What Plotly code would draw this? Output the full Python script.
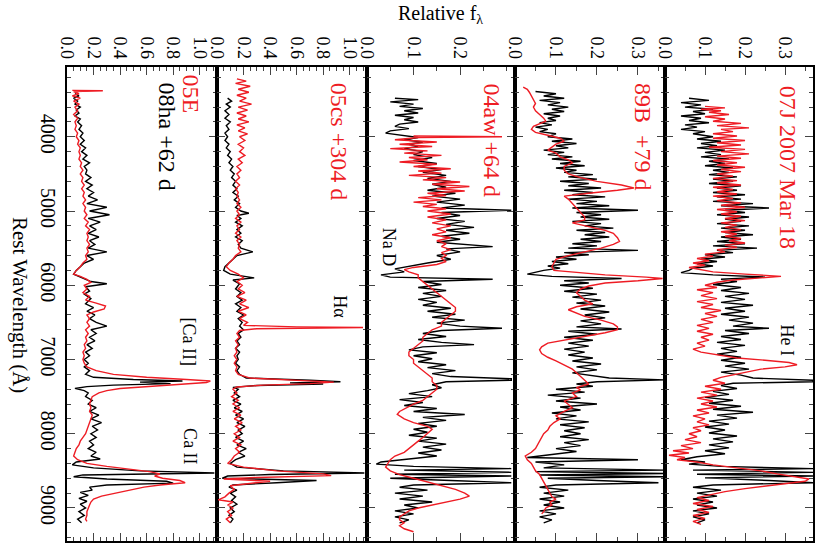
import plotly.graph_objects as go
from plotly.subplots import make_subplots

# ---- data ----
# panel 1: SN 2008ha (black) vs 05E (red)
wl_08ha = [3420, 3450, 3480, 3520, 3560, 3600, 3640, 3680, 3720, 3760, 3800, 3850, 3900, 3950,
           4000, 4050, 4100, 4150, 4200, 4250, 4300, 4350, 4400, 4450, 4500, 4550, 4600, 4650,
           4700, 4750, 4800, 4850, 4900, 4950, 5000, 5050, 5100, 5150, 5200, 5250, 5300, 5350,
           5400, 5450, 5500, 5550, 5600, 5650, 5700, 5750, 5800, 5850, 5900, 5950, 5980, 6020,
           6080, 6120, 6180, 6250, 6300, 6350, 6400, 6450, 6500, 6550, 6600, 6650, 6700, 6750,
           6800, 6850, 6900, 6950, 7000, 7050, 7100, 7150, 7200, 7240, 7270, 7290, 7305, 7325,
           7345, 7365, 7390, 7420, 7450, 7500, 7550, 7600, 7650, 7700, 7750, 7800, 7850, 7900,
           7950, 8000, 8050, 8100, 8150, 8200, 8250, 8300, 8340, 8380, 8420, 8460, 8500, 8530,
           8555, 8580, 8610, 8640, 8665, 8690, 8720, 8760, 8790, 8830, 8870, 8910, 8950, 9000,
           9050, 9100, 9150, 9200]
fl_08ha = [0.06, 0.09, 0.05, 0.08, 0.06, 0.10, 0.07, 0.09, 0.06, 0.10, 0.08, 0.11, 0.09, 0.12,
           0.10, 0.13, 0.10, 0.14, 0.11, 0.15, 0.12, 0.17, 0.13, 0.15, 0.14, 0.18, 0.14, 0.19,
           0.15, 0.20, 0.16, 0.23, 0.15, 0.30, 0.17, 0.32, 0.16, 0.25, 0.17, 0.22, 0.16, 0.24,
           0.17, 0.21, 0.16, 0.30, 0.15, 0.20, 0.13, 0.10, 0.07, 0.05, 0.12, 0.18, 0.30, 0.14,
           0.17, 0.13, 0.18, 0.14, 0.20, 0.15, 0.21, 0.17, 0.22, 0.30, 0.18, 0.22, 0.17, 0.21,
           0.15, 0.19, 0.14, 0.17, 0.13, 0.16, 0.13, 0.17, 0.14, 0.20, 0.50, 0.87, 0.55, 0.78,
           0.35, 0.15, 0.06, 0.13, 0.16, 0.14, 0.19, 0.16, 0.22, 0.17, 0.24, 0.18, 0.26, 0.19,
           0.23, 0.18, 0.22, 0.17, 0.20, 0.16, 0.22, 0.18, 0.25, 0.07, 0.04, 0.20, 0.55, 1.11,
           0.12, 0.05, 0.30, 0.75, 0.80, 0.30, 0.17, 0.19, 0.10, 0.16, 0.09, 0.15, 0.10, 0.14,
           0.09, 0.13, 0.08, 0.11]

wl_05E = [3375, 3380, 3390, 3420, 3450, 3480, 3520, 3560, 3600, 3650, 3700, 3750, 3800, 3850,
          3900, 3950, 4000, 4050, 4100, 4150, 4200, 4250, 4300, 4350, 4400, 4450, 4500, 4550,
          4600, 4650, 4700, 4750, 4800, 4850, 4900, 4950, 5000, 5050, 5100, 5150, 5200, 5250,
          5300, 5350, 5400, 5450, 5500, 5550, 5600, 5650, 5700, 5750, 5800, 5850, 5880, 5920,
          5960, 6000, 6050, 6100, 6150, 6200, 6240, 6280, 6320, 6360, 6400, 6450, 6500, 6550,
          6600, 6650, 6700, 6750, 6800, 6850, 6900, 6950, 7000, 7050, 7100, 7150, 7200, 7240,
          7270, 7290, 7310, 7330, 7360, 7390, 7420, 7450, 7500, 7550, 7600, 7650, 7700, 7750,
          7800, 7850, 7900, 7950, 8000, 8050, 8100, 8150, 8200, 8250, 8300, 8350, 8400, 8440,
          8480, 8510, 8540, 8570, 8600, 8630, 8660, 8690, 8720, 8760, 8800, 8840, 8880, 8920,
          8960, 9000, 9050, 9100, 9150, 9180]
fl_05E = [0.04, 0.27, 0.05, 0.09, 0.04, 0.10, 0.05, 0.09, 0.06, 0.08, 0.05, 0.08, 0.06, 0.07,
          0.06, 0.08, 0.07, 0.09, 0.08, 0.10, 0.09, 0.10, 0.09, 0.11, 0.10, 0.12, 0.10, 0.12,
          0.11, 0.13, 0.11, 0.13, 0.12, 0.14, 0.12, 0.14, 0.13, 0.15, 0.13, 0.16, 0.14, 0.17,
          0.15, 0.16, 0.15, 0.17, 0.15, 0.16, 0.14, 0.15, 0.12, 0.10, 0.07, 0.05, 0.10, 0.15,
          0.18, 0.13, 0.15, 0.12, 0.17, 0.14, 0.22, 0.29, 0.28, 0.20, 0.15, 0.17, 0.15, 0.17,
          0.14, 0.16, 0.14, 0.15, 0.13, 0.14, 0.12, 0.13, 0.12, 0.13, 0.15, 0.22, 0.35, 0.60,
          0.90, 1.08, 1.05, 0.90, 0.62, 0.40, 0.30, 0.24, 0.19, 0.18, 0.17, 0.18, 0.17, 0.19,
          0.18, 0.17, 0.16, 0.15, 0.14, 0.12, 0.10, 0.09, 0.07, 0.06, 0.05, 0.08, 0.15, 0.30,
          0.48, 0.62, 0.70, 0.66, 0.72, 0.85, 0.89, 0.70, 0.58, 0.48, 0.38, 0.26, 0.20, 0.18,
          0.17, 0.16, 0.15, 0.15, 0.14, 0.15]

# panel 2: black comparison vs 05cs +304 d (red)
wl_bk2 = [3480, 3520, 3560, 3600, 3650, 3700, 3750, 3800, 3850, 3900, 3950, 4000, 4050, 4100,
          4150, 4200, 4250, 4300, 4350, 4400, 4450, 4500, 4550, 4600, 4650, 4700, 4750, 4800,
          4850, 4900, 4950, 5000, 5030, 5060, 5100, 5150, 5200, 5250, 5300, 5350, 5400, 5450,
          5500, 5550, 5600, 5650, 5700, 5750, 5800, 5850, 5900, 5930, 5980, 6050, 6100, 6150,
          6200, 6250, 6300, 6350, 6400, 6450, 6500, 6550, 6600, 6650, 6700, 6750, 6800, 6850,
          6900, 6950, 7000, 7050, 7100, 7150, 7200, 7250, 7280, 7300, 7315, 7330, 7350, 7375,
          7400, 7450, 7500, 7550, 7600, 7650, 7700, 7750, 7800, 7850, 7900, 7950, 8000, 8050,
          8100, 8150, 8200, 8250, 8300, 8350, 8400, 8450, 8500, 8530, 8550, 8570, 8600, 8630,
          8660, 8690, 8720, 8760, 8800, 8850, 8900, 8950, 9000, 9050, 9100, 9150, 9200]
fl_bk2 = [0.08, 0.11, 0.07, 0.10, 0.06, 0.09, 0.06, 0.10, 0.07, 0.09, 0.06, 0.08, 0.06, 0.09,
          0.07, 0.10, 0.08, 0.11, 0.09, 0.12, 0.10, 0.13, 0.11, 0.14, 0.12, 0.15, 0.12, 0.16,
          0.13, 0.17, 0.14, 0.18, 0.24, 0.15, 0.18, 0.14, 0.19, 0.15, 0.18, 0.14, 0.19, 0.16,
          0.18, 0.27, 0.15, 0.12, 0.09, 0.06, 0.05, 0.10, 0.28, 0.12, 0.17, 0.14, 0.18, 0.15,
          0.19, 0.14, 0.18, 0.15, 0.20, 0.16, 0.19, 0.17, 0.20, 0.16, 0.18, 0.15, 0.17, 0.14,
          0.17, 0.15, 0.16, 0.14, 0.17, 0.15, 0.17, 0.22, 0.70, 0.93, 0.55, 0.80, 0.30, 0.12,
          0.16, 0.13, 0.17, 0.12, 0.18, 0.13, 0.19, 0.14, 0.20, 0.15, 0.21, 0.16, 0.19, 0.14,
          0.20, 0.15, 0.22, 0.16, 0.21, 0.14, 0.10, 0.15, 0.50, 1.11, 0.40, 0.08, 0.04, 0.75,
          0.45, 0.12, 0.09, 0.15, 0.10, 0.14, 0.11, 0.15, 0.10, 0.13, 0.09, 0.12, 0.10]

wl_05cs = [3220, 3250, 3280, 3320, 3360, 3400, 3440, 3480, 3520, 3560, 3600, 3640, 3680, 3720,
           3760, 3800, 3840, 3880, 3920, 3960, 4000, 4050, 4100, 4150, 4200, 4250, 4300, 4350,
           4400, 4450, 4500, 4550, 4600, 4650, 4700, 4750, 4800, 4850, 4900, 4950, 5000, 5050,
           5100, 5150, 5200, 5250, 5300, 5350, 5400, 5450, 5500, 5550, 5600, 5650, 5700, 5750,
           5800, 5850, 5900, 5950, 6000, 6050, 6100, 6150, 6200, 6250, 6300, 6350, 6400, 6450,
           6500, 6540, 6560, 6570, 6585, 6610, 6650, 6700, 6750, 6800, 6850, 6900, 6950, 7000,
           7050, 7100, 7150, 7200, 7250, 7280, 7305, 7325, 7345, 7370, 7400, 7450, 7500, 7550,
           7600, 7650, 7700, 7750, 7800, 7850, 7900, 7950, 8000, 8050, 8100, 8150, 8200, 8250,
           8300, 8350, 8400, 8450, 8500, 8540, 8565, 8590, 8610, 8640, 8670, 8700, 8750, 8800,
           8850, 8890, 8920, 8960, 9000, 9050, 9100, 9150, 9200]
fl_05cs = [0.15, 0.22, 0.14, 0.25, 0.16, 0.24, 0.15, 0.22, 0.17, 0.26, 0.16, 0.23, 0.15, 0.22,
           0.16, 0.24, 0.15, 0.21, 0.16, 0.23, 0.17, 0.21, 0.16, 0.20, 0.17, 0.21, 0.16, 0.19,
           0.15, 0.18, 0.15, 0.17, 0.14, 0.17, 0.14, 0.16, 0.15, 0.17, 0.15, 0.18, 0.15, 0.17,
           0.14, 0.18, 0.15, 0.17, 0.14, 0.18, 0.15, 0.17, 0.16, 0.18, 0.14, 0.12, 0.09, 0.07,
           0.10, 0.16, 0.20, 0.15, 0.19, 0.16, 0.21, 0.15, 0.22, 0.17, 0.24, 0.16, 0.22, 0.17,
           0.23, 0.20, 0.60, 1.10, 0.30, 0.17, 0.15, 0.17, 0.14, 0.16, 0.14, 0.15, 0.13, 0.15,
           0.13, 0.15, 0.14, 0.16, 0.25, 0.60, 0.88, 0.70, 0.35, 0.15, 0.12, 0.15, 0.11, 0.16,
           0.12, 0.17, 0.12, 0.18, 0.13, 0.19, 0.14, 0.18, 0.13, 0.17, 0.12, 0.18, 0.14, 0.17,
           0.13, 0.11, 0.08, 0.20, 0.45, 0.80, 0.86, 0.30, 0.05, 0.40, 0.22, 0.10, 0.13, 0.09,
           0.06, 0.01, 0.12, 0.08, 0.12, 0.08, 0.11, 0.07, 0.10]

# panel 3: black comparison vs 04aw +64 d (red)
wl_bk3 = [3480, 3500, 3530, 3560, 3590, 3620, 3650, 3680, 3710, 3740, 3770, 3800, 3830, 3860,
          3890, 3920, 3950, 3980, 4010, 4040, 4070, 4100, 4130, 4160, 4200, 4240, 4280, 4320,
          4360, 4400, 4440, 4480, 4520, 4560, 4600, 4640, 4680, 4720, 4760, 4800, 4840, 4880,
          4920, 4960, 4990, 5020, 5060, 5100, 5140, 5180, 5220, 5260, 5300, 5340, 5380, 5420,
          5460, 5480, 5510, 5550, 5600, 5650, 5700, 5740, 5780, 5820, 5860, 5890, 5920, 5950,
          5990, 6030, 6070, 6110, 6150, 6190, 6230, 6270, 6310, 6350, 6390, 6430, 6470, 6510,
          6550, 6580, 6610, 6650, 6690, 6730, 6770, 6800, 6830, 6870, 6910, 6950, 6990, 7030,
          7070, 7110, 7150, 7190, 7230, 7260, 7280, 7300, 7340, 7380, 7420, 7460, 7500, 7540,
          7580, 7620, 7660, 7700, 7740, 7780, 7820, 7860, 7900, 7940, 7980, 8020, 8060, 8100,
          8140, 8180, 8220, 8260, 8300, 8340, 8380, 8410, 8440, 8470, 8490, 8520, 8545, 8570,
          8600, 8630, 8660, 8690, 8720, 8760, 8800, 8840, 8880, 8920, 8960, 9000, 9040, 9080,
          9120, 9160, 9200]
fl_bk3 = [0.06, 0.11, 0.05, 0.10, 0.07, 0.12, 0.08, 0.11, 0.06, 0.10, 0.08, 0.11, 0.07, 0.06,
          0.09, 0.05, 0.04, 0.08, 0.11, 0.08, 0.12, 0.09, 0.11, 0.08, 0.12, 0.10, 0.14, 0.10,
          0.15, 0.11, 0.16, 0.12, 0.17, 0.13, 0.18, 0.14, 0.17, 0.13, 0.19, 0.14, 0.20, 0.15,
          0.21, 0.16, 0.31, 0.16, 0.20, 0.15, 0.21, 0.17, 0.23, 0.17, 0.22, 0.16, 0.20, 0.15,
          0.22, 0.27, 0.17, 0.20, 0.15, 0.18, 0.13, 0.09, 0.06, 0.08, 0.03, 0.05, 0.27, 0.12,
          0.16, 0.11, 0.17, 0.12, 0.16, 0.11, 0.15, 0.12, 0.18, 0.13, 0.19, 0.14, 0.21, 0.15,
          0.20, 0.29, 0.16, 0.12, 0.17, 0.11, 0.16, 0.23, 0.12, 0.09, 0.15, 0.10, 0.14, 0.11,
          0.17, 0.13, 0.19, 0.14, 0.18, 0.31, 0.31, 0.17, 0.14, 0.16, 0.13, 0.09, 0.14, 0.07,
          0.12, 0.08, 0.15, 0.10, 0.21, 0.12, 0.17, 0.11, 0.15, 0.10, 0.13, 0.09, 0.15, 0.11,
          0.17, 0.12, 0.16, 0.11, 0.15, 0.09, 0.03, 0.02, 0.10, 0.31, 0.08, 0.31, 0.06, 0.31,
          0.05, 0.18, 0.31, 0.10, 0.07, 0.13, 0.06, 0.12, 0.07, 0.14, 0.08, 0.11, 0.06, 0.10,
          0.06, 0.09, 0.07]

wl_04aw = [3990, 4000, 4010, 4040, 4070, 4100, 4130, 4160, 4190, 4220, 4250, 4280, 4310, 4340,
           4370, 4400, 4430, 4460, 4490, 4520, 4550, 4580, 4610, 4640, 4670, 4700, 4730, 4760,
           4790, 4820, 4850, 4880, 4910, 4940, 4970, 5000, 5040, 5080, 5120, 5160, 5200, 5240,
           5280, 5320, 5360, 5400, 5440, 5480, 5520, 5560, 5600, 5640, 5680, 5720, 5760, 5790,
           5820, 5860, 5900, 5950, 6000, 6050, 6100, 6150, 6200, 6250, 6300, 6350, 6400, 6450,
           6500, 6550, 6600, 6650, 6700, 6750, 6800, 6850, 6900, 6950, 7000, 7050, 7100, 7150,
           7200, 7250, 7300, 7350, 7400, 7450, 7500, 7550, 7600, 7650, 7700, 7740, 7800, 7850,
           7900, 7940, 8000, 8050, 8100, 8150, 8200, 8250, 8300, 8350, 8400, 8450, 8500, 8550,
           8600, 8650, 8700, 8750, 8800, 8840, 8880, 8920, 8960, 9000, 9040, 9080, 9120, 9160,
           9200, 9240, 9280, 9320]
fl_04aw = [0.10, 0.29, 0.11, 0.06, 0.15, 0.07, 0.14, 0.05, 0.13, 0.08, 0.16, 0.09, 0.13, 0.07,
           0.15, 0.10, 0.18, 0.11, 0.16, 0.09, 0.17, 0.12, 0.20, 0.14, 0.22, 0.15, 0.21, 0.13,
           0.17, 0.11, 0.16, 0.10, 0.15, 0.12, 0.17, 0.13, 0.18, 0.13, 0.17, 0.14, 0.18, 0.15,
           0.17, 0.14, 0.18, 0.15, 0.17, 0.16, 0.18, 0.16, 0.17, 0.16, 0.17, 0.15, 0.10, 0.08,
           0.09, 0.11, 0.11, 0.12, 0.13, 0.14, 0.15, 0.16, 0.17, 0.18, 0.19, 0.19, 0.18, 0.17,
           0.16, 0.16, 0.14, 0.13, 0.12, 0.12, 0.11, 0.10, 0.09, 0.09, 0.10, 0.10, 0.11, 0.12,
           0.13, 0.14, 0.14, 0.15, 0.15, 0.14, 0.13, 0.12, 0.10, 0.085, 0.07, 0.065, 0.08, 0.10,
           0.13, 0.14, 0.13, 0.12, 0.11, 0.10, 0.09, 0.08, 0.06, 0.05, 0.045, 0.04, 0.05, 0.07,
           0.10, 0.13, 0.16, 0.19, 0.21, 0.22, 0.20, 0.17, 0.14, 0.11, 0.09, 0.08, 0.07, 0.07,
           0.08, 0.07, 0.08, 0.10]

# panel 4: black comparison vs 89B +79 d (red)
wl_bk4 = [3390, 3420, 3450, 3480, 3510, 3540, 3570, 3600, 3630, 3660, 3690, 3720, 3750, 3780,
          3810, 3840, 3870, 3900, 3930, 3960, 4000, 4030, 4060, 4090, 4120, 4150, 4180, 4210,
          4240, 4270, 4300, 4330, 4360, 4390, 4420, 4450, 4480, 4510, 4540, 4570, 4600, 4630,
          4660, 4690, 4720, 4750, 4780, 4810, 4840, 4870, 4900, 4930, 4960, 4990, 5020, 5050,
          5080, 5110, 5140, 5170, 5200, 5230, 5260, 5290, 5320, 5350, 5380, 5410, 5440, 5470,
          5500, 5530, 5560, 5590, 5620, 5650, 5680, 5710, 5740, 5770, 5800, 5830, 5850, 5880,
          5910, 5940, 5970, 6000, 6040, 6080, 6120, 6160, 6200, 6240, 6280, 6320, 6360, 6400,
          6440, 6480, 6520, 6560, 6590, 6620, 6660, 6700, 6740, 6780, 6820, 6860, 6900, 6940,
          6980, 7020, 7060, 7100, 7140, 7180, 7220, 7250, 7275, 7300, 7330, 7360, 7400, 7440,
          7480, 7520, 7560, 7600, 7640, 7680, 7720, 7760, 7800, 7840, 7880, 7920, 7960, 8000,
          8040, 8080, 8120, 8160, 8200, 8240, 8280, 8320, 8350, 8380, 8420, 8460, 8490, 8510,
          8535, 8555, 8580, 8600, 8630, 8660, 8690, 8720, 8760, 8800, 8840, 8880, 8920, 8960,
          9000, 9040, 9080, 9120, 9160, 9200]
fl_bk4 = [0.05, 0.10, 0.07, 0.12, 0.06, 0.11, 0.08, 0.13, 0.09, 0.12, 0.07, 0.11, 0.08, 0.10,
          0.06, 0.09, 0.05, 0.08, 0.06, 0.10, 0.08, 0.14, 0.09, 0.15, 0.10, 0.13, 0.07, 0.12,
          0.08, 0.14, 0.09, 0.16, 0.11, 0.17, 0.10, 0.15, 0.12, 0.19, 0.13, 0.20, 0.11, 0.18,
          0.13, 0.21, 0.12, 0.19, 0.14, 0.22, 0.13, 0.20, 0.15, 0.23, 0.14, 0.30, 0.15, 0.21,
          0.16, 0.23, 0.14, 0.21, 0.17, 0.24, 0.15, 0.22, 0.17, 0.23, 0.16, 0.21, 0.14, 0.20,
          0.13, 0.30, 0.12, 0.18, 0.10, 0.15, 0.09, 0.13, 0.08, 0.11, 0.07, 0.04, 0.03, 0.09,
          0.26, 0.12, 0.18, 0.11, 0.19, 0.12, 0.20, 0.14, 0.21, 0.15, 0.22, 0.16, 0.23, 0.17,
          0.22, 0.16, 0.21, 0.15, 0.26, 0.13, 0.20, 0.12, 0.19, 0.13, 0.18, 0.12, 0.17, 0.13,
          0.19, 0.14, 0.21, 0.15, 0.20, 0.14, 0.19, 0.23, 0.365, 0.20, 0.15, 0.19, 0.10, 0.17,
          0.08, 0.16, 0.10, 0.20, 0.11, 0.16, 0.09, 0.15, 0.10, 0.18, 0.11, 0.17, 0.12, 0.16,
          0.11, 0.18, 0.12, 0.16, 0.10, 0.15, 0.09, 0.03, 0.30, 0.05, 0.12, 0.07, 0.365, 0.05,
          0.365, 0.06, 0.365, 0.08, 0.20, 0.35, 0.10, 0.06, 0.13, 0.07, 0.12, 0.06, 0.11, 0.07,
          0.12, 0.06, 0.10, 0.06, 0.09, 0.07]

wl_89B = [3330, 3360, 3400, 3450, 3500, 3550, 3600, 3650, 3700, 3750, 3790, 3820, 3860, 3900,
          3940, 3980, 4020, 4060, 4100, 4140, 4180, 4220, 4270, 4310, 4350, 4400, 4450, 4500,
          4550, 4600, 4650, 4690, 4720, 4760, 4800, 4840, 4900, 4960, 5030, 5080, 5120, 5160,
          5210, 5260, 5300, 5360, 5410, 5450, 5500, 5550, 5600, 5650, 5700, 5750, 5800, 5830,
          5860, 5890, 5910, 5940, 5970, 6010, 6050, 6100, 6150, 6200, 6250, 6290, 6330, 6370,
          6420, 6470, 6520, 6560, 6600, 6640, 6690, 6730, 6780, 6830, 6870, 6920, 6970, 7020,
          7070, 7130, 7180, 7230, 7270, 7330, 7380, 7410, 7450, 7500, 7560, 7600, 7650, 7700,
          7760, 7800, 7850, 7900, 7950, 8000, 8050, 8100, 8150, 8200, 8250, 8300, 8350, 8400,
          8450, 8500, 8550, 8600, 8650, 8700, 8750, 8800, 8850, 8880, 8920, 8960, 9000, 9050,
          9080]
fl_89B = [0.02, 0.03, 0.035, 0.04, 0.045, 0.05, 0.045, 0.05, 0.06, 0.07, 0.075, 0.06, 0.045,
          0.04, 0.05, 0.08, 0.11, 0.12, 0.10, 0.09, 0.08, 0.10, 0.11, 0.13, 0.14, 0.12, 0.12,
          0.13, 0.16, 0.20, 0.26, 0.29, 0.25, 0.18, 0.12, 0.13, 0.14, 0.15, 0.16, 0.17, 0.17,
          0.14, 0.18, 0.22, 0.24, 0.25, 0.255, 0.24, 0.21, 0.17, 0.13, 0.10, 0.095, 0.09, 0.095,
          0.15, 0.22, 0.32, 0.36, 0.30, 0.22, 0.18, 0.16, 0.15, 0.16, 0.17, 0.19, 0.15, 0.13,
          0.15, 0.17, 0.21, 0.24, 0.25, 0.25, 0.22, 0.17, 0.12, 0.08, 0.065, 0.06, 0.065, 0.08,
          0.10, 0.12, 0.14, 0.15, 0.16, 0.17, 0.18, 0.15, 0.16, 0.14, 0.15, 0.12, 0.13, 0.14,
          0.12, 0.10, 0.11, 0.095, 0.085, 0.08, 0.07, 0.065, 0.06, 0.055, 0.05, 0.04, 0.025,
          0.03, 0.04, 0.045, 0.05, 0.06, 0.065, 0.07, 0.075, 0.08, 0.085, 0.09, 0.10, 0.085,
          0.09, 0.075, 0.07, 0.065]

# panel 5: black comparison vs 07J 2007 Mar 18 (red)
wl_bk5 = [3480, 3510, 3540, 3570, 3600, 3630, 3660, 3690, 3720, 3750, 3780, 3810, 3840, 3870,
          3900, 3930, 3960, 4000, 4030, 4060, 4090, 4120, 4150, 4180, 4210, 4240, 4270, 4300,
          4330, 4360, 4390, 4420, 4450, 4480, 4510, 4540, 4570, 4600, 4630, 4660, 4690, 4720,
          4750, 4780, 4810, 4840, 4870, 4900, 4930, 4960, 4990, 5020, 5050, 5080, 5110, 5140,
          5170, 5200, 5230, 5260, 5290, 5320, 5350, 5380, 5410, 5440, 5470, 5500, 5530, 5560,
          5590, 5620, 5650, 5680, 5710, 5740, 5770, 5800, 5830, 5860, 5890, 5920, 5950, 5990,
          6030, 6070, 6110, 6150, 6190, 6230, 6270, 6310, 6350, 6390, 6430, 6470, 6510, 6550,
          6580, 6610, 6650, 6690, 6730, 6770, 6810, 6850, 6890, 6930, 6970, 7010, 7050, 7090,
          7130, 7170, 7210, 7250, 7280, 7300, 7320, 7350, 7390, 7430, 7470, 7510, 7550, 7590,
          7630, 7670, 7710, 7750, 7790, 7830, 7870, 7910, 7950, 7990, 8030, 8070, 8110, 8150,
          8190, 8230, 8270, 8310, 8350, 8380, 8410, 8440, 8470, 8490, 8520, 8545, 8570, 8595,
          8630, 8660, 8690, 8720, 8760, 8800, 8840, 8880, 8920, 8960, 9000, 9040, 9080, 9120,
          9160, 9200]
fl_bk5 = [0.06, 0.11, 0.04, 0.09, 0.05, 0.12, 0.07, 0.10, 0.04, 0.09, 0.06, 0.11, 0.05, 0.08,
          0.04, 0.10, 0.07, 0.12, 0.08, 0.14, 0.09, 0.13, 0.08, 0.15, 0.10, 0.14, 0.09, 0.16,
          0.11, 0.15, 0.10, 0.17, 0.12, 0.16, 0.11, 0.18, 0.12, 0.17, 0.11, 0.19, 0.13, 0.18,
          0.12, 0.20, 0.13, 0.19, 0.12, 0.22, 0.14, 0.26, 0.15, 0.20, 0.13, 0.21, 0.15, 0.19,
          0.13, 0.21, 0.14, 0.20, 0.15, 0.22, 0.14, 0.19, 0.13, 0.20, 0.12, 0.23, 0.13, 0.17,
          0.10, 0.15, 0.09, 0.13, 0.08, 0.12, 0.07, 0.06, 0.04, 0.12, 0.25, 0.14, 0.18, 0.12,
          0.19, 0.14, 0.21, 0.15, 0.20, 0.14, 0.22, 0.15, 0.20, 0.14, 0.21, 0.16, 0.22, 0.17,
          0.26, 0.15, 0.21, 0.14, 0.19, 0.13, 0.20, 0.14, 0.18, 0.13, 0.19, 0.14, 0.20, 0.15,
          0.21, 0.14, 0.19, 0.22, 0.37, 0.37, 0.17, 0.14, 0.18, 0.12, 0.16, 0.10, 0.17, 0.11,
          0.19, 0.12, 0.22, 0.13, 0.18, 0.11, 0.16, 0.10, 0.15, 0.11, 0.18, 0.12, 0.17, 0.11,
          0.16, 0.10, 0.15, 0.08, 0.04, 0.10, 0.06, 0.14, 0.37, 0.07, 0.37, 0.08, 0.37, 0.10,
          0.26, 0.37, 0.12, 0.07, 0.14, 0.08, 0.13, 0.07, 0.12, 0.08, 0.13, 0.07, 0.11, 0.07,
          0.10, 0.08]

wl_07J = [3590, 3610, 3630, 3650, 3670, 3700, 3730, 3760, 3790, 3820, 3850, 3880, 3900, 3930,
          3960, 3990, 4020, 4050, 4080, 4110, 4140, 4170, 4200, 4230, 4260, 4290, 4320, 4350,
          4380, 4410, 4440, 4470, 4500, 4530, 4560, 4590, 4620, 4650, 4680, 4710, 4740, 4770,
          4800, 4830, 4860, 4890, 4920, 4950, 4980, 5010, 5040, 5070, 5100, 5130, 5160, 5190,
          5220, 5250, 5280, 5310, 5340, 5370, 5400, 5430, 5460, 5490, 5520, 5550, 5580, 5610,
          5640, 5670, 5700, 5730, 5760, 5790, 5820, 5850, 5880, 5900, 5930, 5960, 6000, 6030,
          6060, 6100, 6140, 6180, 6220, 6260, 6300, 6340, 6380, 6420, 6460, 6500, 6540, 6580,
          6620, 6660, 6700, 6740, 6780, 6820, 6860, 6900, 6940, 6980, 7010, 7040, 7070, 7100,
          7130, 7160, 7200, 7240, 7280, 7320, 7360, 7400, 7440, 7480, 7520, 7560, 7600, 7640,
          7680, 7720, 7760, 7800, 7840, 7880, 7920, 7960, 8000, 8040, 8080, 8120, 8160, 8200,
          8230, 8260, 8290, 8320, 8350, 8380, 8420, 8460, 8500, 8540, 8580, 8610, 8640, 8670,
          8700, 8740, 8780, 8820, 8860, 8900, 8940, 8980, 9020, 9060, 9100, 9140, 9180, 9220]
fl_07J = [0.10, 0.15, 0.09, 0.14, 0.11, 0.16, 0.10, 0.15, 0.12, 0.19, 0.13, 0.21, 0.14, 0.17,
          0.12, 0.18, 0.12, 0.20, 0.13, 0.19, 0.11, 0.20, 0.14, 0.21, 0.13, 0.19, 0.12, 0.18,
          0.13, 0.20, 0.14, 0.19, 0.13, 0.17, 0.12, 0.18, 0.13, 0.19, 0.12, 0.17, 0.13, 0.18,
          0.12, 0.17, 0.13, 0.19, 0.14, 0.20, 0.13, 0.18, 0.14, 0.19, 0.15, 0.20, 0.14, 0.18,
          0.15, 0.19, 0.14, 0.18, 0.15, 0.19, 0.16, 0.20, 0.15, 0.18, 0.13, 0.15, 0.10, 0.12,
          0.08, 0.11, 0.07, 0.10, 0.06, 0.09, 0.12, 0.20, 0.29, 0.24, 0.17, 0.13, 0.10, 0.13,
          0.08, 0.12, 0.09, 0.13, 0.08, 0.12, 0.09, 0.14, 0.10, 0.13, 0.09, 0.12, 0.08, 0.11,
          0.08, 0.12, 0.09, 0.11, 0.08, 0.10, 0.07, 0.09, 0.13, 0.18, 0.25, 0.31, 0.33, 0.30,
          0.24, 0.21, 0.17, 0.14, 0.12, 0.15, 0.10, 0.14, 0.09, 0.13, 0.08, 0.12, 0.09, 0.13,
          0.08, 0.11, 0.07, 0.10, 0.08, 0.11, 0.07, 0.09, 0.06, 0.08, 0.05, 0.09, 0.04, 0.07,
          0.02, 0.06, 0.01, 0.05, 0.03, 0.08, 0.12, 0.18, 0.24, 0.28, 0.32, 0.36, 0.35, 0.30,
          0.25, 0.20, 0.15, 0.11, 0.08, 0.11, 0.07, 0.12, 0.08, 0.11, 0.07, 0.10, 0.07, 0.09]

# axes
wave_ticks = [4000, 5000, 6000, 7000, 8000, 9000]
flux_ranges = [[0, 1.13], [0, 1.13], [0, 0.318], [0, 0.366], [0, 0.37]]
flux_ticks = [[0.0, 0.2, 0.4, 0.6, 0.8, 1.0], [0.0, 0.2, 0.4, 0.6, 0.8, 1.0],
              [0.0, 0.1, 0.2], [0.0, 0.1, 0.2, 0.3], [0.0, 0.1, 0.2, 0.3]]

RED = "#ee1c24"
FONT = "Liberation Serif, Times New Roman, serif"

fig = make_subplots(rows=1, cols=5, shared_yaxes=True, horizontal_spacing=0,
                    column_widths=[150, 150, 148, 150, 148])

pairs = [(wl_08ha, fl_08ha, wl_05E, fl_05E),
         (wl_bk2, fl_bk2, wl_05cs, fl_05cs),
         (wl_bk3, fl_bk3, wl_04aw, fl_04aw),
         (wl_bk4, fl_bk4, wl_89B, fl_89B),
         (wl_bk5, fl_bk5, wl_07J, fl_07J)]

for i, (wb, fb, wr, fr) in enumerate(pairs):
    col = i + 1
    fig.add_trace(go.Scatter(x=fb, y=wb, mode="lines", line=dict(color="black", width=1.4),
                             showlegend=False, hoverinfo="skip"), row=1, col=col)
    fig.add_trace(go.Scatter(x=fr, y=wr, mode="lines", line=dict(color=RED, width=1.4),
                             showlegend=False, hoverinfo="skip"), row=1, col=col)
    fig.update_xaxes(range=flux_ranges[i], side="top", tickvals=flux_ticks[i],
                     ticktext=["%.1f" % v for v in flux_ticks[i]], tickangle=90,
                     ticks="inside", ticklen=8, tickwidth=1, mirror="ticks",
                     showline=True, linecolor="black", linewidth=1.5, showgrid=False,
                     zeroline=False, automargin=False,
                     tickfont=dict(size=18, family=FONT, color="black"),
                     minor=dict(ticks="inside", ticklen=4, dtick=0.05, showgrid=False),
                     row=1, col=col)
    fig.update_yaxes(range=[9445, 3060], tickvals=wave_ticks,
                     ticktext=[str(v) for v in wave_ticks], tickangle=90,
                     ticks="inside", ticklen=8, tickwidth=1, mirror="ticks",
                     showline=True, linecolor="black", linewidth=1.5, showgrid=False,
                     zeroline=False, automargin=False, showticklabels=(col == 1),
                     tickfont=dict(size=20, family=FONT, color="black"),
                     minor=dict(ticks="inside", ticklen=4, dtick=200, showgrid=False),
                     row=1, col=col)

# panel labels: (panel, text, colour, flux, wavelength, size)
labels = [(1, "05E", RED, 0.936, 3421, 24),
          (1, "08ha +62 d", "black", 0.755, 4000, 24),
          (2, "05cs +304 d", RED, 0.92, 4067, 24),
          (3, "04aw +64 d", RED, 0.269, 4054, 24),
          (4, "89B  +79 d", RED, 0.312, 4000, 24),
          (5, "07J 2007 Mar 18", RED, 0.3075, 4404, 24),
          (5, "He I", "black", 0.305, 6732, 18),
          (1, "[Ca II]", "black", 0.92, 6759, 18),
          (1, "Ca II", "black", 0.93, 8173, 18),
          (2, "Hα", "black", 0.93, 6288, 18),
          (3, "Na D", "black", 0.047, 5494, 18)]
for p, txt, c, fx, wy, sz in labels:
    sfx = "" if p == 1 else str(p)
    fig.add_annotation(x=fx, y=wy, xref="x" + sfx, yref="y" + sfx, text=txt, showarrow=False,
                       textangle=90, xanchor="center", yanchor="middle",
                       font=dict(size=sz, family=FONT, color=c))

fig.add_annotation(x=0.5, y=1.11, xref="paper", yref="paper", text="Relative f<sub>λ</sub>",
                   showarrow=False, xanchor="center", yanchor="middle",
                   font=dict(size=20, family=FONT, color="black"))
fig.add_annotation(x=-0.063, y=0.498, xref="paper", yref="paper", text="Rest Wavelength (Å)",
                   showarrow=False, textangle=90, xanchor="center", yanchor="middle",
                   font=dict(size=21, family=FONT, color="black"))

fig.update_layout(width=830, height=554, margin=dict(l=67, r=17, t=67, b=13),
                  plot_bgcolor="white", paper_bgcolor="white",
                  font=dict(family=FONT, color="black"))

# page body has a default 8px margin; remove it so the figure sits at the window origin
fig.write_html("out.html", config={"displayModeBar": False},
               post_script="document.body.style.margin='0';")
